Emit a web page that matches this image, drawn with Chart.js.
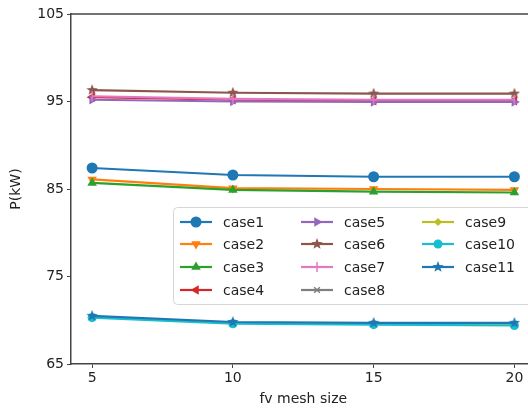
<!DOCTYPE html>
<html>
<head>
<meta charset="utf-8">
<script src="https://cdn.jsdelivr.net/npm/chart.js@4"></script>
<style>
  html, body { margin: 0; padding: 0; background: #fff; overflow: hidden; width: 528px; height: 408px; }
</style>
</head>
<body>
<canvas id="chart" width="542" height="408"></canvas>
<script>
var meshSizes = [5, 10, 15, 20];
var xTicks = [5, 10, 15, 20];
var yTicks = [65, 75, 85, 95, 105];

var caseNames = ['case1', 'case2', 'case3', 'case4', 'case5', 'case6', 'case7', 'case8', 'case9', 'case10', 'case11'];
var case1 = [87.4, 86.6, 86.4, 86.4];
var case2 = [86.1, 85.1, 85.0, 84.9];
var case3 = [85.7, 84.9, 84.7, 84.6];
var case4 = [95.5, 95.2, 95.1, 95.1];
var case5 = [95.2, 95.0, 94.95, 94.95];
var case6 = [96.3, 96.0, 95.9, 95.9];
var case7 = [95.6, 95.3, 95.2, 95.2];
var case8 = [70.4, 69.7, 69.6, 69.6];
var case9 = [70.4, 69.7, 69.6, 69.5];
var case10 = [70.3, 69.6, 69.5, 69.4];
var case11 = [70.5, 69.8, 69.7, 69.7];

var FONT = "'DejaVu Sans', sans-serif";
var colors = ['#1f77b4', '#ff7f0e', '#2ca02c', '#d62728', '#9467bd', '#8c564b', '#e377c2', '#7f7f7f', '#bcbd22', '#17becf', '#1f77b4'];

// filled star marker (matplotlib '*')
function starImage(color, size) {
  var c = document.createElement('canvas');
  c.width = size; c.height = size;
  var g = c.getContext('2d');
  var cx = size / 2, cy = size / 2, R = size / 2, r = R * 0.42;
  g.beginPath();
  for (var i = 0; i < 10; i++) {
    var a = -Math.PI / 2 + i * Math.PI / 5;
    var rr = i % 2 === 0 ? R : r;
    g.lineTo(cx + rr * Math.cos(a), cy + rr * Math.sin(a));
  }
  g.closePath();
  g.fillStyle = color;
  g.fill();
  return c;
}

var markers = [
  { style: 'circle', rot: 0, r: 5.5 },
  { style: 'triangle', rot: 180, r: 5.5 },
  { style: 'triangle', rot: 0, r: 5.5 },
  { style: 'triangle', rot: 270, r: 5.5 },
  { style: 'triangle', rot: 90, r: 5.5 },
  { style: starImage(colors[5], 12), rot: 0, r: 6 },
  { style: 'line', rot: 90, r: 5 },
  { style: 'crossRot', rot: 0, r: 4 },
  { style: 'rectRot', rot: 0, r: 4 },
  { style: 'circle', rot: 0, r: 4.5 },
  { style: starImage(colors[10], 12), rot: 0, r: 6 }
];

var series = [case1, case2, case3, case4, case5, case6, case7, case8, case9, case10, case11];

var datasets = series.map(function (vals, i) {
  var m = markers[i];
  return {
    label: caseNames[i],
    data: vals.map(function (v, j) { return { x: meshSizes[j], y: v }; }),
    borderColor: colors[i],
    backgroundColor: colors[i],
    borderWidth: 2.2,
    pointStyle: m.style,
    rotation: m.rot,
    pointRadius: m.r,
    pointBorderWidth: (m.style === 'line' || m.style === 'crossRot') ? 1.5 : 0,
    pointBorderColor: colors[i],
    order: 11 - i
  };
});

var mplLegend = {
  id: 'mplLegend',
  afterDraw: function (chart) {
    var ctx = chart.ctx;
    var a = chart.chartArea;
    ctx.save();
    // top spine (right spine falls outside the crop)
    ctx.strokeStyle = '#444';
    ctx.lineWidth = 1.5;
    ctx.beginPath();
    ctx.moveTo(a.left, a.top);
    ctx.lineTo(a.right, a.top);
    ctx.stroke();

    // legend box
    var bx = 173, by = 207, bw = 372, bh = 97;
    ctx.fillStyle = 'rgba(255,255,255,0.85)';
    ctx.strokeStyle = '#d6d6d6';
    ctx.lineWidth = 1;
    ctx.beginPath();
    ctx.roundRect(bx + 0.5, by + 0.5, bw, bh, 4);
    ctx.fill();
    ctx.stroke();

    var colX = [180, 301, 422];
    var rowY = [222, 244, 267, 290];
    ctx.font = '14px ' + FONT;
    ctx.textBaseline = 'middle';
    for (var i = 0; i < caseNames.length; i++) {
      var col = Math.floor(i / 4), row = i % 4;
      var x0 = colX[col], y0 = rowY[row];
      ctx.strokeStyle = colors[i];
      ctx.fillStyle = colors[i];
      ctx.lineWidth = 2.2;
      ctx.beginPath();
      ctx.moveTo(x0, y0);
      ctx.lineTo(x0 + 32, y0);
      ctx.stroke();
      var m = markers[i];
      ctx.lineWidth = 1.5;
      Chart.helpers.drawPoint(ctx, {
        pointStyle: m.style,
        rotation: m.rot,
        radius: m.r,
        borderWidth: (m.style === 'line' || m.style === 'crossRot') ? 1.5 : 0
      }, x0 + 16, y0);
      ctx.fillStyle = '#222';
      ctx.fillText(caseNames[i], x0 + 43, y0 + 1);
    }
    ctx.restore();
  }
};

var ctx = document.getElementById('chart').getContext('2d');
var myChart = new Chart(ctx, {
  type: 'line',
  data: { datasets: datasets },
  options: {
    responsive: false,
    animation: false,
    layout: { padding: { top: 14, left: 0, right: 0, bottom: 0 } },
    plugins: {
      legend: { display: false },
      tooltip: { enabled: false }
    },
    scales: {
      x: {
        type: 'linear',
        min: 4.25,
        max: 20.75,
        afterBuildTicks: function (axis) { axis.ticks = xTicks.map(function (v) { return { value: v }; }); },
        afterFit: function (axis) { axis.height = 44; },
        grid: { display: true, drawOnChartArea: false, drawTicks: true, tickLength: 4, color: '#444', tickWidth: 1 },
        border: { display: true, color: '#444', width: 1.5 },
        ticks: { color: '#222', font: { family: FONT, size: 14 }, padding: 2, maxRotation: 0 },
        title: { display: true, text: 'fv mesh size', color: '#222', font: { family: FONT, size: 14 }, padding: { top: 0, bottom: 0 } }
      },
      y: {
        min: 65,
        max: 105,
        afterBuildTicks: function (axis) { axis.ticks = yTicks.map(function (v) { return { value: v }; }); },
        afterFit: function (axis) { axis.width = 71; },
        grid: { display: true, drawOnChartArea: false, drawTicks: true, tickLength: 4, color: '#444', tickWidth: 1 },
        border: { display: true, color: '#444', width: 1.5 },
        ticks: { color: '#222', font: { family: FONT, size: 14 }, padding: 3 },
        title: { display: true, text: 'P(kW)', color: '#222', font: { family: FONT, size: 14 }, padding: { top: 8, bottom: 0 } }
      }
    }
  },
  plugins: [mplLegend]
});
</script>
</body>
</html>
